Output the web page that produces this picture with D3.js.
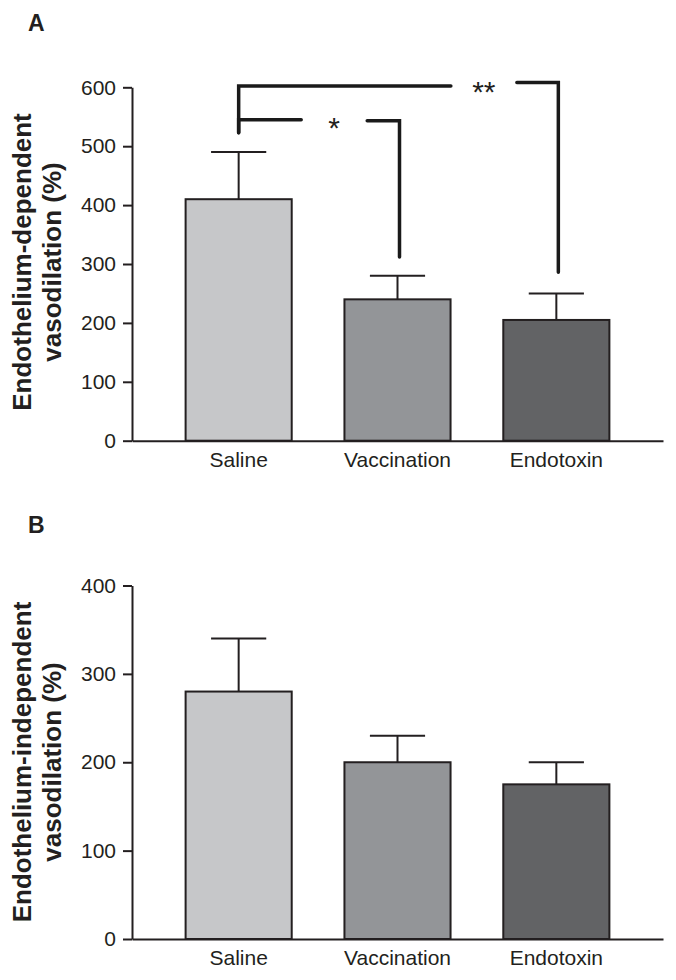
<!DOCTYPE html>
<html>
<head>
<meta charset="utf-8">
<script src="https://cdn.jsdelivr.net/npm/d3@7"></script>
<style>
  html, body { margin: 0; padding: 0; background: #fff; }
  svg { display: block; font-family: "Liberation Sans", Arial, Helvetica, sans-serif; }
</style>
</head>
<body>
<svg id="chart" width="676" height="980"></svg>
<script>
// ---- data ----
const categories = ["Saline", "Vaccination", "Endotoxin"];
const colors = ["#c6c7c9", "#939598", "#626365"];

const panelA_means = [410, 240, 205];
const panelA_errors = [80, 40, 45];
const panelA_ticks = [0, 100, 200, 300, 400, 500, 600];

const panelB_means = [280, 200, 175];
const panelB_errors = [60, 30, 25];
const panelB_ticks = [0, 100, 200, 300, 400];

// significance brackets for panel A
const sigFrom = ["Saline", "Saline"];
const sigTo = ["Endotoxin", "Vaccination"];
const sigLeftLevel = [602, 545];
const sigRightLevel = [608, 543];
const sigLeftDrop = [523, 523];
const sigRightDrop = [286, 312];
const sigLabel = ["**", "*"];
const sigLabelFrac = [0.767, 0.594];

// ---- layout ----
const svg = d3.select("#chart");
const ink = "#231f20";
const font = "'Liberation Sans', Arial, Helvetica, sans-serif";
const x = d3.scaleBand().domain(categories).range([132, 663]).paddingInner(0.332).paddingOuter(0.3375);

function panel(opts) {
  const y = d3.scaleLinear().domain([0, opts.max]).range([opts.y0, opts.y1]);
  const g = svg.append("g");

  // panel letter
  g.append("text").attr("x", 28).attr("y", opts.letterY)
    .attr("font-size", 23).attr("font-weight", "bold").attr("fill", ink).text(opts.letter);

  // bars
  g.selectAll("rect.bar").data(categories).enter().append("rect")
    .attr("x", d => x(d)).attr("width", x.bandwidth())
    .attr("y", (d, i) => y(opts.means[i]))
    .attr("height", (d, i) => y(0) - y(opts.means[i]))
    .attr("fill", (d, i) => colors[i])
    .attr("stroke", ink).attr("stroke-width", 2);

  // error bars
  const capHalf = x.bandwidth() * 0.26;
  categories.forEach((c, i) => {
    const cx = x(c) + x.bandwidth() / 2;
    g.append("line").attr("x1", cx).attr("x2", cx)
      .attr("y1", y(opts.means[i])).attr("y2", y(opts.means[i] + opts.errors[i]))
      .attr("stroke", ink).attr("stroke-width", 2);
    g.append("line").attr("x1", cx - capHalf).attr("x2", cx + capHalf)
      .attr("y1", y(opts.means[i] + opts.errors[i])).attr("y2", y(opts.means[i] + opts.errors[i]))
      .attr("stroke", ink).attr("stroke-width", 2);
  });

  // y axis
  const ya = g.append("g").attr("transform", "translate(132,0)")
    .call(d3.axisLeft(y).tickValues(opts.ticks).tickSize(9).tickPadding(7).tickSizeOuter(0));
  ya.select(".domain").attr("stroke", ink).attr("stroke-width", 2);
  ya.selectAll(".tick line").attr("stroke", ink).attr("stroke-width", 2);
  ya.selectAll(".tick text").attr("font-size", 21).attr("fill", ink).attr("font-family", font);

  // x axis (baseline)
  const xa = g.append("g").attr("transform", `translate(0,${y(0)})`)
    .call(d3.axisBottom(x).tickSize(0).tickPadding(11).tickSizeOuter(0));
  xa.select(".domain").attr("stroke", ink).attr("stroke-width", 2);
  xa.selectAll(".tick text").attr("font-size", 21).attr("fill", ink).attr("font-family", font);

  // y axis title (two lines)
  const cy = opts.titleY;
  const t = g.append("text").attr("font-size", 26).attr("font-weight", "bold").attr("fill", ink)
    .attr("text-anchor", "middle").attr("transform", `translate(31,${cy}) rotate(-90)`);
  t.append("tspan").attr("x", 0).attr("y", 0).text(opts.title1);
  t.append("tspan").attr("x", 0).attr("y", 30).text(opts.title2);

  return { g, y };
}

const A = panel({
  letter: "A", letterY: 31, max: 600, y0: 440.7, y1: 87.3,
  means: panelA_means, errors: panelA_errors, ticks: panelA_ticks,
  title1: "Endothelium-dependent", title2: "vasodilation (%)", titleY: 262
});

const B = panel({
  letter: "B", letterY: 533, max: 400, y0: 939, y1: 585.5,
  means: panelB_means, errors: panelB_errors, ticks: panelB_ticks,
  title1: "Endothelium-independent", title2: "vasodilation (%)", titleY: 762
});

// significance brackets
const cx = c => x(c) + x.bandwidth() / 2;
const gap = 33;
const starSize = 30;
sigFrom.forEach((f, i) => {
  const xl = cx(f), xr = cx(sigTo[i]) + 2;
  const xs = xl + (xr - xl) * sigLabelFrac[i];
  const yl = A.y(sigLeftLevel[i]), yr = A.y(sigRightLevel[i]);
  const path = d3.path();
  path.moveTo(xl, A.y(sigLeftDrop[i]));
  path.lineTo(xl, yl);
  path.lineTo(xs - gap, yl);
  path.moveTo(xs + gap, yr);
  path.lineTo(xr, yr);
  path.lineTo(xr, A.y(sigRightDrop[i]));
  A.g.append("path").attr("d", path.toString()).attr("fill", "none")
    .attr("stroke", "#1a1a1a").attr("stroke-width", 3.5).attr("stroke-linecap", "round").attr("stroke-linejoin", "miter");
  A.g.append("text").attr("x", xs).attr("y", (yl + yr) / 2 + 0.6 * starSize)
    .attr("text-anchor", "middle").attr("font-size", starSize).attr("fill", ink).text(sigLabel[i]);
});
</script>
</body>
</html>
